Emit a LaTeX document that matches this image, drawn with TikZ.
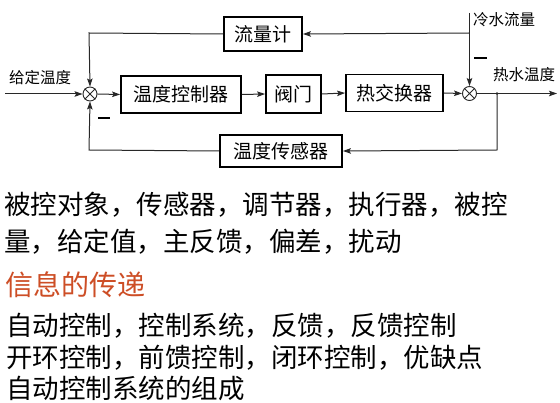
\documentclass[tikz,border=0pt]{standalone}
\usepackage{fontspec}
\newfontfamily\cjk{Noto Sans CJK SC}
\usetikzlibrary{arrows.meta}
\definecolor{headred}{RGB}{205,78,38}
\definecolor{linegray}{RGB}{40,40,40}
\tikzset{
  blk/.style={draw=black, line width=1.8pt, minimum height=#1, inner sep=0pt, font=\cjk\fontsize{19}{19}\selectfont},
  blk/.default=36pt,
  sumj/.style={circle, draw=linegray, line width=0.9pt, minimum size=14pt, inner sep=0pt},
  conn/.style={draw=linegray, line width=1pt},
  arr/.style={conn, -{Stealth[length=8pt,width=5.5pt,inset=1.5pt]}},
  lbl/.style={font=\cjk\fontsize{15.5}{15.5}\selectfont, inner sep=0pt},
  body/.style={font=\cjk\fontsize{26.5}{26.5}\selectfont, inner sep=0pt, anchor=west},
  minus/.style={line width=2.6pt, draw=black}
}
\begin{document}
\begin{tikzpicture}[x=1pt,y=-1pt]
\useasboundingbox (0,0) rectangle (560,403);
% blocks
\node[blk, minimum width=78pt, minimum height=34pt] (flow) at (263,34) {流量计};
\node[blk, minimum width=120pt, minimum height=37pt] (ctrl) at (181,94.5) {温度控制器};
\node[blk, minimum width=55pt, minimum height=38pt] (valve) at (293.5,94) {阀门};
\node[blk, minimum width=97pt, minimum height=37pt] (hx) at (394.5,93) {热交换器};
\node[blk, minimum width=122pt, minimum height=32pt] (sensor) at (281,151) {温度传感器};
% summing junctions
\node[sumj] (s1) at (90,94) {};
\draw[conn, line width=0.8pt] (s1.north west) -- (s1.south east) (s1.north east) -- (s1.south west);
\node[sumj] (s2) at (469.5,93.5) {};
\draw[conn, line width=0.8pt] (s2.north west) -- (s2.south east) (s2.north east) -- (s2.south west);
% coordinates
\coordinate (in) at (5,94);
\coordinate (out) at (557,93.5);
\coordinate (br) at (497,93.5);
\coordinate (cold) at (469.5,13);
\coordinate (tj) at (469.5,33);
\coordinate (tl) at (89,33);
\coordinate (bl) at (89,150);
\coordinate (bbr) at (497,150);
% connectors
\draw[arr] (in) -- (s1.west);
\draw[arr] (s1.east) -- (ctrl.west);
\draw[arr] (ctrl.east) -- (valve.west);
\draw[arr] (valve.east) -- (hx.west);
\draw[arr] (hx.east) -- (s2.west);
\draw[arr] (s2.east) -- (out);
\draw[arr] (cold) -- (s2.north);
\draw[arr] (tj) -- (flow.east);
\draw[arr] (flow.west) -- (tl) -- (s1.north);
\draw[arr] (br) -- (bbr) -- (sensor.east);
\draw[arr] (sensor.west) -- (bl) -- (s1.south);
\fill[linegray] (br) circle (1.4pt);
% minus signs
\draw[minus] (98,118) -- (110,118);
\draw[minus] (474,58) -- (487,58);
% labels
\node[lbl, anchor=west] (lin) at (9,78) {给定温度};
\node[lbl, anchor=west] (lcold) at (473,20) {冷水流量};
\node[lbl, anchor=west] (lout) at (493,75) {热水温度};
% body text
\node[body] (t1) at (4,205) {被控对象，传感器，调节器，执行器，被控};
\node[body] (t2) at (4,242) {量，给定值，主反馈，偏差，扰动};
\node[body, text=headred, font=\cjk\fontsize{28}{28}\selectfont] (t3) at (5,285) {信息的传递};
\node[body] (t4) at (6,326) {自动控制，控制系统，反馈，反馈控制};
\node[body] (t5) at (6,358) {开环控制，前馈控制，闭环控制，优缺点};
\node[body] (t6) at (6,388) {自动控制系统的组成};
\end{tikzpicture}
\end{document}
